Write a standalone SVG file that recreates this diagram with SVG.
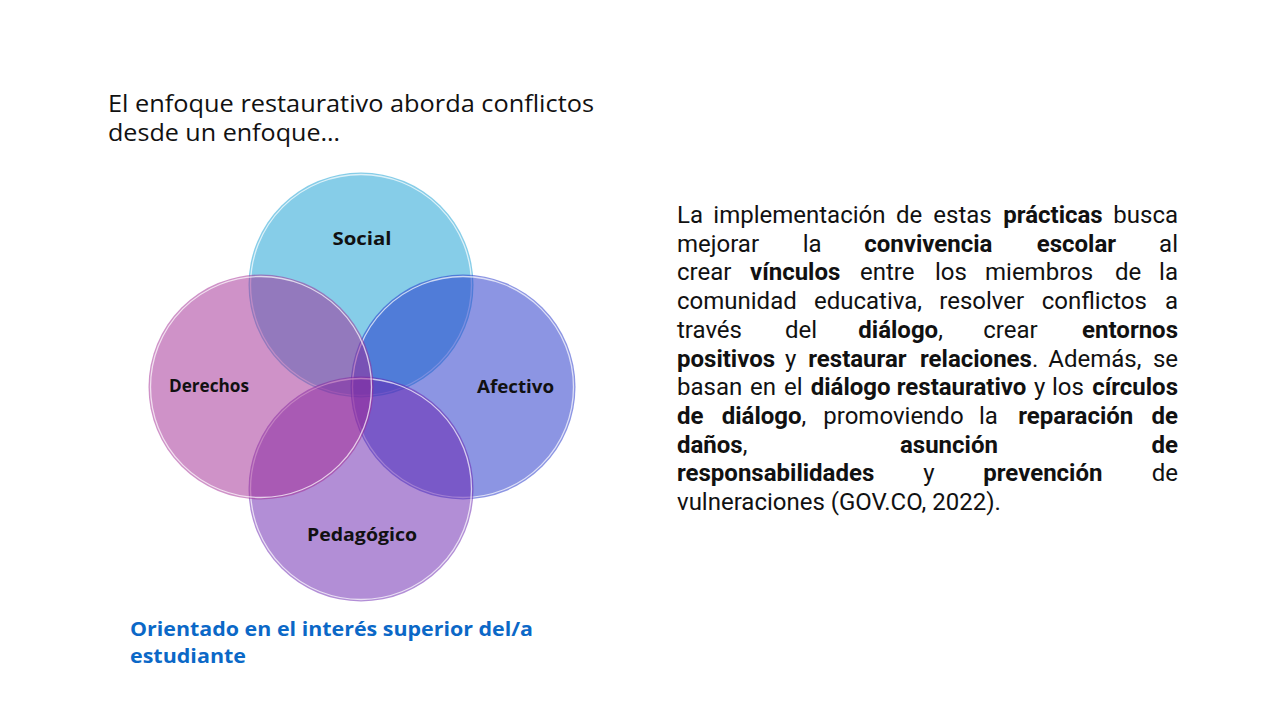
<svg xmlns="http://www.w3.org/2000/svg" width="1280" height="720" viewBox="0 0 1280 720">
<style>
.title{font-family:"Open Sans","Noto Sans","Liberation Sans",sans-serif;font-size:23px;fill:#111}
.lbl{font-family:"Open Sans","Liberation Sans",sans-serif;font-weight:bold;font-size:18px;fill:#111;text-anchor:middle}
.para{font-family:Roboto,"Liberation Sans",sans-serif;font-size:24px;fill:#111}
.b{font-weight:bold}
.blue{font-family:"Open Sans","Liberation Sans",sans-serif;font-weight:bold;font-size:19.5px;fill:#0b68c7}
.rim{fill:none;stroke:#fff;stroke-opacity:0.7;stroke-width:1.3}
</style>
<rect width="1280" height="720" fill="#fff"/>
<g id="title">
<text class="title" x="108" y="112" textLength="486" lengthAdjust="spacingAndGlyphs">El enfoque restaurativo aborda conflictos</text>
<text class="title" x="108" y="141" textLength="232" lengthAdjust="spacingAndGlyphs">desde un enfoque…</text>
</g>
<g id="social">
<circle cx="361" cy="285" r="112.5" fill="#0d9bd1" fill-opacity="0.5"/>
<circle class="rim" cx="361" cy="285" r="110.5"/>
<text class="lbl" x="362" y="245" textLength="59" lengthAdjust="spacingAndGlyphs">Social</text>
</g>
<g id="afectivo">
<circle cx="463" cy="387" r="112.5" fill="#192bc7" fill-opacity="0.5"/>
<circle class="rim" cx="463" cy="387" r="110.5"/>
<text class="lbl" x="515.5" y="393" textLength="77" lengthAdjust="spacingAndGlyphs">Afectivo</text>
</g>
<g id="pedagogico">
<circle cx="361" cy="489" r="112.5" fill="#651dad" fill-opacity="0.5"/>
<circle class="rim" cx="361" cy="489" r="110.5"/>
<text class="lbl" x="362" y="541" textLength="110" lengthAdjust="spacingAndGlyphs">Pedagógico</text>
</g>
<g id="derechos">
<circle cx="261" cy="387" r="112.5" fill="#9f2591" fill-opacity="0.5"/>
<circle class="rim" cx="261" cy="387" r="110.5"/>
<text class="lbl" x="209" y="392" textLength="80" lengthAdjust="spacingAndGlyphs">Derechos</text>
</g>
<g id="connectors"></g>
<g id="paragraph" class="para">
<text y="223"><tspan x="677">La</tspan><tspan x="713.3">implementación</tspan><tspan x="896">de</tspan><tspan x="933.3">estas</tspan><tspan x="1003.3" class="b">prácticas</tspan><tspan x="1178" text-anchor="end">busca</tspan></text>
<text y="251.7"><tspan x="677">mejorar</tspan><tspan x="802.7">la</tspan><tspan x="864.3" class="b">convivencia</tspan><tspan x="1036.7" class="b">escolar</tspan><tspan x="1178" text-anchor="end">al</tspan></text>
<text y="280.4"><tspan x="677">crear</tspan><tspan x="750" class="b">vínculos</tspan><tspan x="860">entre</tspan><tspan x="935">los</tspan><tspan x="985">miembros</tspan><tspan x="1115">de</tspan><tspan x="1178" text-anchor="end">la</tspan></text>
<text y="309.1"><tspan x="677">comunidad</tspan><tspan x="814">educativa,</tspan><tspan x="939.3">resolver</tspan><tspan x="1041.7">conflictos</tspan><tspan x="1178" text-anchor="end">a</tspan></text>
<text y="337.8"><tspan x="677">través</tspan><tspan x="785">del</tspan><tspan x="858.3" class="b">diálogo</tspan><tspan>,</tspan><tspan x="983.3">crear</tspan><tspan x="1178" text-anchor="end" class="b">entornos</tspan></text>
<text y="366.5"><tspan x="677" class="b">positivos</tspan><tspan x="785">y</tspan><tspan x="808.3" class="b">restaurar</tspan><tspan x="920" class="b">relaciones</tspan><tspan>.</tspan><tspan x="1048.3">Además,</tspan><tspan x="1178" text-anchor="end">se</tspan></text>
<text y="395.2"><tspan x="677">basan</tspan><tspan x="750">en</tspan><tspan x="784">el</tspan><tspan x="810.7" class="b">diálogo</tspan><tspan x="896.8" class="b">restaurativo</tspan><tspan x="1034">y</tspan><tspan x="1052">los</tspan><tspan x="1178" text-anchor="end" class="b">círculos</tspan></text>
<text y="423.9"><tspan x="677" class="b">de</tspan><tspan x="721.7" class="b">diálogo</tspan><tspan>,</tspan><tspan x="823.3">promoviendo</tspan><tspan x="979">la</tspan><tspan x="1018.3" class="b">reparación</tspan><tspan x="1178" text-anchor="end" class="b">de</tspan></text>
<text y="452.6"><tspan x="677" class="b">daños</tspan><tspan>,</tspan><tspan x="900" class="b">asunción</tspan><tspan x="1178" text-anchor="end" class="b">de</tspan></text>
<text y="481.3"><tspan x="677" class="b">responsabilidades</tspan><tspan x="923.3">y</tspan><tspan x="983.3" class="b">prevención</tspan><tspan x="1178" text-anchor="end">de</tspan></text>
<text y="510" x="677">vulneraciones (GOV.CO, 2022).</text>
</g>
<g id="footer">
<text class="blue" x="130" y="636" textLength="403" lengthAdjust="spacingAndGlyphs">Orientado en el interés superior del/a</text>
<text class="blue" x="130" y="663" textLength="116" lengthAdjust="spacingAndGlyphs">estudiante</text>
</g>
</svg>
